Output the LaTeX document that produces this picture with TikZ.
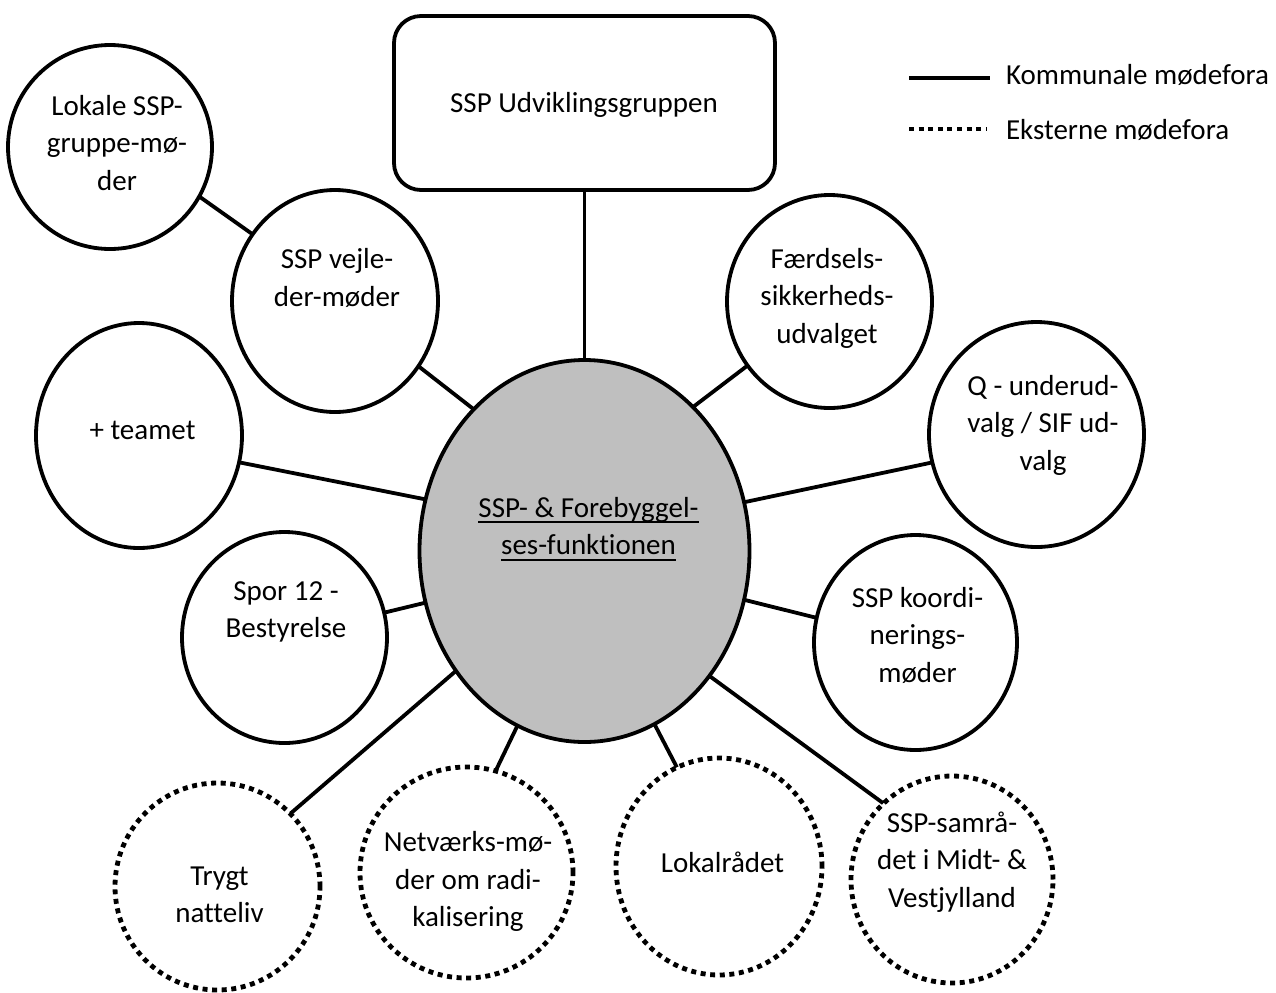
\documentclass[tikz,border=0pt]{standalone}
\usepackage{fontspec}
\setmainfont{Carlito}[Ligatures={NoCommon,NoRare}]
\usetikzlibrary{shapes.geometric,backgrounds}
\newcommand\myuline[1]{\setbox0\hbox{#1}\rlap{\rule[-3pt]{\wd0}{1pt}}\box0}
\tikzset{
  bub/.style 2 args={ellipse, draw, fill=white, line width=1.9pt, minimum width=#1pt, minimum height=#2pt, inner sep=0pt, outer sep=0pt},
  dotbub/.style 2 args={bub={#1}{#2}, line width=2.4pt, dash pattern=on 2.5pt off 2.3pt},
  txt/.style={align=center, inner sep=0pt, outer sep=0pt, font=\fontsize{14.5pt}{18.75pt}\selectfont},
  conn/.style={line width=1.9pt},
}
\begin{document}
\begin{tikzpicture}[x=0.5pt,y=-0.5pt]
\useasboundingbox (0,0) rectangle (1276,992);
% top box
\node[draw, line width=1.9pt, rounded corners=13.5pt, minimum width=190.5pt, minimum height=87pt, inner sep=0pt, outer sep=0pt] (top) at (584.5,103) {};
% center ellipse
\node[bub={165}{191}, fill={rgb,255:red,191;green,191;blue,191}] (ctr) at (584.5,551) {};
% solid circles
\node[bub={102}{102}] (lok) at (110,147) {};
\node[bub={103}{111}] (vej) at (335,301) {};
\node[bub={102.5}{106.5}] (fae) at (829.5,301.5) {};
\node[bub={107.5}{112.5}] (q) at (1036.5,434.5) {};
\node[bub={103}{112.5}] (team) at (139,435.5) {};
\node[bub={102.5}{105.5}] (spor) at (284.5,637.5) {};
\node[bub={101.5}{107.5}] (koord) at (915.5,642.5) {};
% dotted circles
\node[dotbub={102.5}{103.5}] (tryg) at (217.5,886.5) {};
\node[dotbub={106.5}{105.5}] (net) at (466.5,872.5) {};
\node[dotbub={103}{108.5}] (lokr) at (719,866.5) {};
\node[dotbub={101}{103.5}] (samr) at (952,879.5) {};
% connectors
\begin{scope}[on background layer]
\draw[conn] (top.south) -- (ctr.north);
\draw[conn] (lok.-29) -- (vej.141);
\draw[conn] (vej.-38) -- (ctr.128);
\draw[conn] (fae.218) -- (ctr.53);
\draw[conn] (q.195) -- (ctr.17);
\draw[conn] (team.-15) -- (ctr.162);
\draw[conn] (spor.14) -- (ctr.198);
\draw[conn] (koord.166) -- (ctr.-17);
\draw[conn] (tryg.45) -- (ctr.223);
\draw[conn] (net.74) -- (ctr.249);
\draw[conn] (lokr.113) -- (ctr.-68);
\draw[conn] (samr.132) -- (ctr.-45.5);
\end{scope}
% texts
\node[txt] (ttop) at (584,105) {\strut SSP Udviklingsgruppen};
\node[txt] (tctr) at (588.5,528.5) {\strut\myuline{SSP- \& Forebyggel-}\\\strut\myuline{ses-funktionen}};
\node[txt] (tlok) at (117,145) {\strut Lokale SSP-\\\strut gruppe-mø-\\\strut der};
\node[txt] (tvej) at (337,280) {\strut SSP vejle-\\\strut der-møder};
\node[txt] (tfae) at (827,298) {\strut Færdsels-\\\strut sikkerheds-\\\strut udvalget};
\node[txt] (tq) at (1043,425) {\strut Q - underud-\\\strut valg / SIF ud-\\\strut valg};
\node[txt] (tteam) at (142.5,432) {\strut + teamet};
\node[txt] (tspor) at (286,611.5) {\strut Spor 12 -\\\strut Bestyrelse};
\node[txt] (tkoord) at (917.5,637) {\strut SSP koordi-\\\strut nerings-\\\strut møder};
\node[txt] (ttryg) at (219.5,896.5) {\strut Trygt\\\strut natteliv};
\node[txt] (tnet) at (468,881.7) {\strut Netværks-mø-\\\strut der om radi-\\\strut kalisering};
\node[txt] (tlokr) at (722.5,865) {\strut Lokalrådet};
\node[txt] (tsamr) at (952,862) {\strut SSP-samrå-\\\strut det i Midt- \&\\\strut Vestjylland};
% legend
\coordinate (l1a) at (909,78);
\coordinate (l1b) at (990,78);
\coordinate (l2a) at (909,129);
\coordinate (l2b) at (987,129);
\draw[line width=2pt] (l1a) -- (l1b);
\draw[line width=2.4pt, dash pattern=on 2.5pt off 2.3pt] (l2a) -- (l2b);
\node[txt, anchor=west] (leg1) at (1006,77) {\strut Kommunale mødefora};
\node[txt, anchor=west] (leg2) at (1006,132) {\strut Eksterne mødefora};
\end{tikzpicture}
\end{document}
